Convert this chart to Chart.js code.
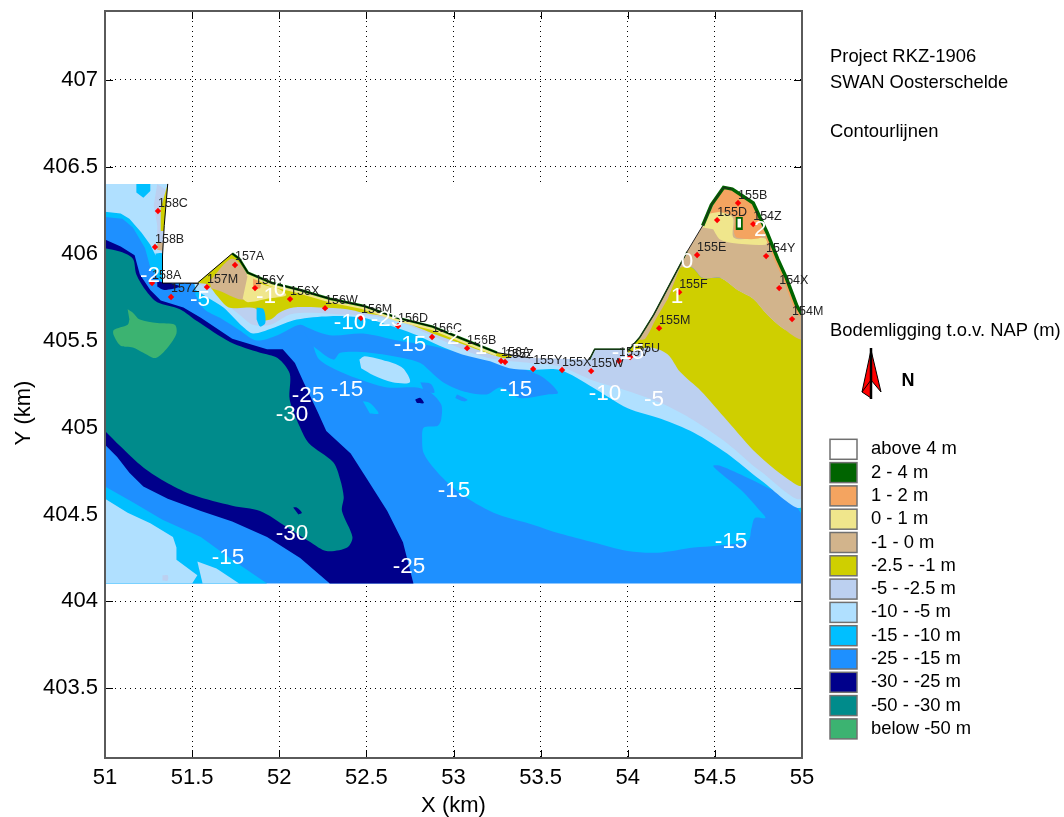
<!DOCTYPE html>
<html>
<head>
<meta charset="utf-8">
<title>Contourlijnen</title>
<script src="https://cdn.jsdelivr.net/npm/chart.js@4"></script>
<style>
  body { margin: 0; background: #fff; }
  canvas { display: block; }
</style>
</head>
<body>
<canvas id="myChart" width="1064" height="817"></canvas>
<script>
// tick labels
const xTicks = [51, 51.5, 52, 52.5, 53, 53.5, 54, 54.5, 55];
const yTicks = [403.5, 404, 404.5, 405, 405.5, 406, 406.5, 407];

// legend
const legendLabels = ['above 4 m', '2 - 4 m', '1 - 2 m', '0 - 1 m', '-1 - 0 m', '-2.5 - -1 m', '-5 - -2.5 m',
  '-10 - -5 m', '-15 - -10 m', '-25 - -15 m', '-30 - -25 m', '-50 - -30 m', 'below -50 m'];
const legendColors = ['#FFFFFF', '#006400', '#F4A460', '#F0E68C', '#D2B48C', '#CFCF00', '#BCD0F0',
  '#B0E0FF', '#00BFFF', '#1E90FF', '#00008B', '#008B8B', '#3CB371'];

// measuring stations
const stationNames = ['158C', '158B', '158A', '157Z', '157M', '157A', '156Y', '156X', '156W', '156M', '156D', '156C',
  '156B', '156A', '155Z', '155Y', '155X', '155W', '155V', '155U', '155M', '155F', '155E', '155D', '155B', '154Z', '154Y', '154X', '154M'];
const stationX = [51.304, 51.287, 51.27, 51.379, 51.585, 51.746, 51.861, 52.062, 52.263, 52.469, 52.682, 52.877,
  53.078, 53.273, 53.296, 53.457, 53.623, 53.79, 53.95, 54.014, 54.18, 54.295, 54.398, 54.513, 54.633, 54.72, 54.794, 54.869, 54.943];
const stationY = [406.244, 406.037, 405.83, 405.75, 405.807, 405.934, 405.801, 405.738, 405.686, 405.629, 405.583, 405.52,
  405.456, 405.382, 405.376, 405.336, 405.33, 405.324, 405.382, 405.405, 405.571, 405.778, 405.991, 406.192, 406.29, 406.169, 405.985, 405.801, 405.623];

// white contour labels
const contourText = ['-15', '-25', '-30', '-15', '-15', '-30', '-25', '-15', '-15', '-10', '-5', '-15', '-10', '-25', '-15', '-2', '-1', '0', '-5', '1', '1', '2', '2', '0'];
const contourX = [51.706, 52.745, 52.073, 53.003, 54.593, 52.073, 52.165, 52.389, 53.359, 53.87, 54.151, 52.751, 52.406, 52.619, 54.002, 51.258, 51.924, 52.005, 51.545, 54.283, 53.158, 52.998, 54.76, 54.34];
const contourY = [404.249, 404.197, 404.387, 404.634, 404.341, 405.071, 405.18, 405.215, 405.215, 405.192, 405.157, 405.474, 405.6, 405.617, 405.428, 405.87, 405.75, 405.79, 405.732, 405.75, 405.456, 405.514, 406.135, 405.951];

// depth areas in km
const domain = [[51,406.4],[55,406.4],[55,404.103],[51,404.103]];
const cyanMain = [[51.52,405.76],[51.57,405.68],[51.66,405.63],[51.77,405.56],[51.87,405.50],[51.99,405.53],[52.12,405.59],[52.18,405.55],[52.19,405.49],[52.23,405.39],[52.35,405.32],[52.48,405.27],[52.62,405.23],[52.79,405.23],[52.87,405.20],[52.93,405.13],[52.93,405.05],[52.91,405.01],[52.83,405.00],[52.82,404.94],[52.83,404.85],[52.91,404.74],[53.04,404.62],[53.23,404.51],[53.46,404.44],[53.61,404.39],[53.80,404.34],[54.00,404.29],[54.17,404.28],[54.38,404.31],[54.51,404.32],[54.69,404.35],[54.71,404.42],[54.73,404.48],[54.79,404.48],[54.76,404.52],[54.65,404.64],[54.53,404.74],[54.49,404.78],[54.53,404.78],[54.69,404.71],[54.83,404.64],[54.95,404.57],[55,404.51],[55,405.8],[54,405.8],[51.5,405.9]];
const blueBand = [[52.12,405.59],[52.29,405.53],[52.48,405.54],[52.68,405.50],[52.87,405.47],[53.04,405.43],[53.25,405.39],[53.36,405.35],[53.51,405.29],[53.60,405.20],[53.54,405.19],[53.38,405.17],[53.27,405.23],[53.19,405.19],[53.05,405.21],[52.94,405.26],[52.88,405.31],[52.81,405.37],[52.71,405.40],[52.52,405.43],[52.35,405.43],[52.31,405.39],[52.19,405.47]];
const bluePatch = [[52.81,405.26],[52.87,405.25],[52.89,405.20],[52.83,405.21]];
const blueStreak = [[53.02,405.19],[53.08,405.16],[53.06,405.15],[53.01,405.17]];
const cyanPatch = [[52.48,405.15],[52.52,405.14],[52.57,405.08],[52.52,405.08]];
const sandIsland = [[52.46,405.39],[52.49,405.41],[52.62,405.38],[52.71,405.34],[52.75,405.26],[52.65,405.26],[52.54,405.30],[52.47,405.34]];
const lightCoast = [[51.52,405.79],[51.60,405.74],[51.68,405.69],[51.79,405.58],[51.85,405.54],[51.96,405.57],[52.10,405.62],[52.29,405.64],[52.48,405.63],[52.68,405.57],[52.79,405.53],[52.92,405.47],[53.05,405.42],[53.21,405.38],[53.32,405.34],[53.44,405.33],[53.61,405.33],[53.80,405.23],[54.00,405.11],[54.19,405.05],[54.38,404.97],[54.57,404.85],[54.76,404.70],[55,404.55],[55,405.8],[54,405.8],[51.5,405.9]];
const periwinkle = [[51.52,405.83],[51.63,405.78],[51.72,405.69],[51.77,405.65],[51.85,405.59],[51.95,405.59],[52.06,405.65],[52.19,405.66],[52.35,405.65],[52.50,405.645],[52.68,405.61],[52.87,405.53],[53.10,405.43],[53.25,405.39],[53.44,405.37],[53.61,405.35],[53.80,405.27],[54.00,405.21],[54.19,405.14],[54.38,405.04],[54.57,404.91],[54.76,404.75],[55,404.60],[55,405.8],[54,405.8],[51.5,405.9]];
const oliveEast = [[54.00,405.43],[54.13,405.46],[54.23,405.42],[54.30,405.32],[54.42,405.21],[54.57,405.04],[54.74,404.85],[54.91,404.71],[55,404.67],[55,405.51],[54.89,405.57],[54.80,405.65],[54.72,405.74],[54.63,405.79],[54.53,405.86],[54.43,405.86],[54.37,405.92],[54.30,405.92],[54.21,405.73],[54.13,405.62],[54.07,405.53],[54.00,405.47]];
const tanEast = [[54.30,405.92],[54.37,405.92],[54.43,405.86],[54.53,405.86],[54.63,405.79],[54.72,405.74],[54.80,405.65],[54.89,405.57],[55,405.51],[55,405.75],[54.93,405.91],[54.82,406.13],[54.73,406.31],[54.42,406.31],[54.33,406.05],[54.21,405.79],[54.12,405.62],[54.06,405.51],[54.10,405.51],[54.16,405.62],[54.23,405.74]];
const khakiPeak = [[54.43,406.15],[54.47,406.24],[54.60,406.21],[54.61,406.09],[54.76,406.09],[54.80,406.08],[54.79,406.05],[54.60,406.06],[54.53,406.08],[54.49,406.14]];
const orangePeak = [[54.47,406.23],[54.55,406.38],[54.62,406.35],[54.72,406.28],[54.78,406.16],[54.76,406.09],[54.63,406.09],[54.61,406.12],[54.61,406.21],[54.53,406.24]];
const greenRect = [[54.62,406.21],[54.66,406.21],[54.66,406.135],[54.62,406.135]];
const whiteRect = [[54.63,406.20],[54.65,406.20],[54.65,406.15],[54.63,406.15]];
const oliveWest = [[51.53,405.83],[51.59,405.82],[51.64,405.76],[51.71,405.69],[51.82,405.69],[51.87,405.68],[51.90,405.62],[51.95,405.62],[52.00,405.66],[52.08,405.69],[52.23,405.69],[52.39,405.68],[52.48,405.66],[52.65,405.63],[52.88,405.54],[53.05,405.48],[53.25,405.41],[53.32,405.40],[53.38,405.47],[52.29,405.85],[51.73,406.02]];
const tanWest = [[51.60,405.84],[51.73,405.97],[51.83,405.86],[51.82,405.74],[51.76,405.74],[51.67,405.78],[51.61,405.80]];
const khakiWest = [[51.82,405.88],[51.91,405.82],[51.99,405.80],[52.04,405.76],[51.93,405.74],[51.82,405.72],[51.79,405.74]];
const orangeWest = [[51.85,405.86],[51.89,405.83],[51.89,405.80],[51.85,405.80]];
const cyanBlob = [[51.87,405.69],[51.91,405.68],[51.92,405.60],[51.89,405.58],[51.87,405.62]];
const cyanSW = [[51,404.66],[51.16,404.57],[51.33,404.47],[51.55,404.37],[51.73,404.24],[51.93,404.103],[51,404.103]];
const lightSW = [[51,404.59],[51.13,404.51],[51.26,404.45],[51.39,404.37],[51.41,404.31],[51.41,404.24],[51.53,404.15],[51.50,404.103],[51,404.103]];
const lightSW2 = [[51.53,404.23],[51.64,404.19],[51.77,404.103],[51.56,404.103]];
const dotSW = [[51.33,404.15],[51.36,404.15],[51.36,404.12],[51.33,404.12]];
const navyBand = [[51,406.08],[51.09,406.04],[51.17,405.99],[51.20,405.88],[51.26,405.79],[51.32,405.73],[51.45,405.69],[51.55,405.63],[51.73,405.51],[51.93,405.45],[52.02,405.45],[52.09,405.37],[52.14,405.26],[52.22,405.09],[52.27,404.98],[52.41,404.85],[52.50,404.71],[52.62,404.52],[52.71,404.34],[52.77,404.103],[52.29,404.103],[52.12,404.25],[51.93,404.37],[51.73,404.46],[51.55,404.52],[51.36,404.59],[51.22,404.66],[51.14,404.74],[51.07,404.83],[51,404.90]];
const tealDeep = [[51,406.03],[51.09,406.01],[51.16,405.97],[51.18,405.88],[51.24,405.78],[51.30,405.72],[51.43,405.68],[51.53,405.61],[51.72,405.49],[51.89,405.43],[51.99,405.40],[52.06,405.31],[52.06,405.16],[52.12,405.00],[52.17,404.91],[52.31,404.80],[52.35,404.70],[52.37,404.60],[52.36,404.52],[52.42,404.37],[52.39,404.31],[52.27,404.29],[52.18,404.34],[52.04,404.43],[51.89,404.52],[51.73,404.55],[51.51,404.61],[51.36,404.68],[51.22,404.77],[51.09,404.89],[51,404.98]];
const greenDeep = [[51.13,405.68],[51.16,405.66],[51.20,405.62],[51.30,405.60],[51.40,405.59],[51.41,405.54],[51.36,405.46],[51.29,405.40],[51.22,405.43],[51.16,405.46],[51.09,405.47],[51.05,405.53],[51.05,405.56],[51.13,405.59],[51.14,405.62]];
const navyBlob1 = [[52.08,404.54],[52.10,404.54],[52.13,404.51],[52.11,404.50]];
const navyBlob2 = [[52.78,405.16],[52.81,405.17],[52.83,405.14],[52.79,405.14]];
const navyCoast = [[51.30,405.84],[51.37,405.83],[51.43,405.81],[51.34,405.79],[51.30,405.81]];
const cyanNW = [[51,406.4],[51.36,406.4],[51.33,405.83],[51.30,405.86],[51.26,405.92],[51.23,406.03],[51.16,406.15],[51.10,406.20],[51,406.21]];
const lightNW = [[51,406.4],[51.36,406.4],[51.34,406.16],[51.33,405.99],[51.29,405.99],[51.26,406.05],[51.21,406.12],[51.14,406.20],[51.09,406.23],[51,406.24]];
const cyanTop = [[51.18,406.4],[51.26,406.4],[51.26,406.36],[51.22,406.32],[51.18,406.35]];
const cyanHarbour = [[51.29,406.00],[51.33,406.00],[51.33,405.94],[51.29,405.94]];
const periNW = [[51.30,406.4],[51.28,406.28],[51.30,406.16],[51.30,406.08],[51.33,405.99],[51.36,406.36]];
const oliveNW = [[51.36,406.4],[51.32,406.26],[51.32,406.13],[51.34,406.13]];
const tanNW = [[51.30,406.06],[51.34,406.06],[51.34,406.02],[51.30,406.02]];

// shore line, from the top left round to the right edge
const coastLine = [[51.36,406.40],[51.34,406.16],[51.33,405.99],[51.33,405.83],[51.53,405.83],[51.73,406.00],[51.77,405.97],[51.82,405.89],[51.96,405.83],[52.12,405.79],[52.29,405.74],[52.48,405.70],[52.68,405.63],[52.88,405.58],[53.05,405.51],[53.25,405.43],[53.44,405.40],[53.78,405.39],[53.81,405.45],[54.01,405.45],[54.07,405.52],[54.15,405.65],[54.25,405.84],[54.34,406.01],[54.43,406.16],[54.48,406.28],[54.55,406.38],[54.60,406.37],[54.72,406.29],[54.80,406.12],[54.86,405.97],[54.91,405.86],[54.97,405.70],[55,405.65]];
const landCover = coastLine.concat([[55,406.4]]);

const C = {
  white: legendColors[0], green: legendColors[1], orange: legendColors[2], khaki: legendColors[3], tan: legendColors[4], olive: legendColors[5],
  peri: legendColors[6], light: legendColors[7], cyan: legendColors[8], blue: legendColors[9], navy: legendColors[10], teal: legendColors[11], deep: legendColors[12]
};

function toPoints(list) {
  return list.map(p => ({ x: p[0], y: p[1] }));
}

function area(list, color) {
  return { data: toPoints(list), showLine: true, fill: 'shape', backgroundColor: color, borderWidth: 0, pointRadius: 0 };
}

// same, with rounded contour edges
function soft(list, color) {
  const d = area(list, color);
  d.tension = 0.3;
  return d;
}

function stroke(list, color, width) {
  return { data: toPoints(list), showLine: true, fill: false, borderColor: color, borderWidth: width, pointRadius: 0 };
}

// painted back to front
const layers = [
  area(domain, C.blue),
  soft(cyanMain, C.cyan),
  soft(blueBand, C.blue),
  soft(bluePatch, C.blue),
  soft(blueStreak, C.blue),
  soft(cyanPatch, C.cyan),
  soft(sandIsland, C.light),
  soft(lightCoast, C.light),
  soft(periwinkle, C.peri),
  soft(oliveWest, C.olive),
  soft(cyanBlob, C.cyan),
  soft(tanWest, C.tan),
  soft(khakiWest, C.khaki),
  soft(orangeWest, C.orange),
  soft(oliveEast, C.olive),
  soft(tanEast, C.tan),
  soft(khakiPeak, C.khaki),
  soft(orangePeak, C.orange),
  area(greenRect, C.green),
  area(whiteRect, C.white),
  area(cyanSW, C.cyan),
  area(lightSW, C.light),
  area(lightSW2, C.light),
  soft(dotSW, C.peri),
  area(navyBand, C.navy),
  soft(tealDeep, C.teal),
  soft(greenDeep, C.deep),
  soft(navyBlob1, C.navy),
  soft(navyBlob2, C.navy),
  soft(navyCoast, C.navy),
  area(cyanNW, C.cyan),
  area(lightNW, C.light),
  area(cyanTop, C.cyan),
  soft(cyanHarbour, C.cyan),
  area(periNW, C.peri),
  area(oliveNW, C.olive),
  soft(tanNW, C.tan),
  stroke(coastLine.slice(7, 16), C.khaki, 7),
  stroke(coastLine.slice(28), C.orange, 7),
  area(landCover, C.white),
  stroke(coastLine.slice(5, 16), C.green, 2.5),
  stroke(coastLine.slice(17, 24), C.green, 1.5),
  stroke(coastLine.slice(24), C.green, 3.5),
  stroke(coastLine.slice(0, 17), '#000000', 1),
  stroke(coastLine.slice(17, 28), '#222222', 1),
  {
    data: stationX.map((x, i) => ({ x: x, y: stationY[i] })), showLine: false,
    pointStyle: 'rectRot', pointRadius: 3.2, backgroundColor: '#FF0000', borderColor: '#FF0000', borderWidth: 0
  }
];

const FONT = '"Liberation Sans", Arial, sans-serif';

// inner tick marks go under the map
const tickMarks = {
  id: 'tickMarks',
  beforeDatasetsDraw(chart) {
    const { ctx, chartArea: a, scales } = chart;
    ctx.save();
    ctx.strokeStyle = '#000';
    ctx.lineWidth = 1;
    ctx.beginPath();
    xTicks.forEach(v => {
      const x = Math.round(scales.x.getPixelForValue(v)) + 0.5;
      ctx.moveTo(x, a.top); ctx.lineTo(x, a.top + 8);
      ctx.moveTo(x, a.bottom); ctx.lineTo(x, a.bottom - 8);
    });
    yTicks.forEach(v => {
      const y = Math.round(scales.y.getPixelForValue(v)) + 0.5;
      ctx.moveTo(a.left, y); ctx.lineTo(a.left + 8, y);
      ctx.moveTo(a.right, y); ctx.lineTo(a.right - 8, y);
    });
    ctx.stroke();
    ctx.restore();
  }
};

// frame, map labels, side panel
const mapExtras = {
  id: 'mapExtras',
  afterDatasetsDraw(chart) {
    const { ctx, chartArea: a, scales } = chart;
    ctx.save();
    ctx.strokeStyle = '#5a5a5a';
    ctx.lineWidth = 2;
    ctx.strokeRect(a.left, a.top, a.right - a.left, a.bottom - a.top);

    ctx.textBaseline = 'middle';
    ctx.textAlign = 'left';
    ctx.fillStyle = '#222';
    ctx.font = '12.5px ' + FONT;
    stationNames.forEach((name, i) => {
      ctx.fillText(name, scales.x.getPixelForValue(stationX[i]), scales.y.getPixelForValue(stationY[i]) - 8);
    });

    ctx.textAlign = 'center';
    ctx.fillStyle = '#fff';
    ctx.font = '22.5px ' + FONT;
    contourText.forEach((t, i) => {
      ctx.fillText(t, scales.x.getPixelForValue(contourX[i]), scales.y.getPixelForValue(contourY[i]));
    });

    // y title sits below the axis middle in the original
    ctx.fillStyle = '#000';
    ctx.font = '22px ' + FONT;
    ctx.save();
    ctx.translate(24, 413);
    ctx.rotate(-Math.PI / 2);
    ctx.fillText('Y (km)', 0, 0);
    ctx.restore();

    ctx.textAlign = 'left';
    ctx.font = '18.4px ' + FONT;
    ctx.fillText('Project RKZ-1906', 830, 57);
    ctx.fillText('SWAN Oosterschelde', 830, 83);
    ctx.fillText('Contourlijnen', 830, 132);
    ctx.fillText('Bodemligging t.o.v. NAP (m)', 830, 331);

    legendLabels.forEach((label, i) => {
      const y = 449.3 + i * 23.3;
      ctx.fillStyle = legendColors[i];
      ctx.fillRect(830, y - 10, 27, 20);
      ctx.strokeStyle = '#707070';
      ctx.lineWidth = 1.5;
      ctx.strokeRect(830, y - 10, 27, 20);
      ctx.fillStyle = '#000';
      ctx.fillText(label, 871, y);
    });

    // north arrow
    ctx.fillStyle = '#FF0000';
    ctx.strokeStyle = '#000';
    ctx.lineWidth = 1;
    ctx.beginPath();
    ctx.moveTo(871, 350); ctx.lineTo(862, 392); ctx.lineTo(871, 398); ctx.closePath();
    ctx.fill();
    ctx.stroke();
    ctx.beginPath();
    ctx.moveTo(871, 350); ctx.lineTo(881, 392); ctx.lineTo(871, 380); ctx.closePath();
    ctx.fill();
    ctx.stroke();
    ctx.beginPath();
    ctx.moveTo(862, 392); ctx.lineTo(871, 380);
    ctx.stroke();
    ctx.lineWidth = 2.5;
    ctx.beginPath();
    ctx.moveTo(871, 348); ctx.lineTo(871, 399);
    ctx.stroke();
    ctx.fillStyle = '#000';
    ctx.font = 'bold 18px ' + FONT;
    ctx.textAlign = 'center';
    ctx.fillText('N', 908, 381);
    ctx.restore();
  }
};

new Chart(document.getElementById('myChart'), {
  type: 'scatter',
  data: { datasets: layers.reverse() }, // first dataset is drawn last
  options: {
    responsive: false,
    animation: false,
    layout: { padding: { left: 0, right: 262, top: 11, bottom: 0 } },
    plugins: { legend: { display: false }, tooltip: { enabled: false } },
    scales: {
      x: {
        type: 'linear', min: 51, max: 55,
        afterBuildTicks: s => { s.ticks = xTicks.map(v => ({ value: v })); },
        afterFit: s => { s.height = 59; s.paddingLeft = 0; s.paddingRight = 0; },
        grid: { color: '#000', drawTicks: false },
        border: { display: false, dash: [1, 4] },
        ticks: { color: '#000', font: { family: FONT, size: 22 }, padding: 7, maxRotation: 0, autoSkip: false, callback: v => String(v) },
        title: { display: true, text: 'X (km)', color: '#000', font: { family: FONT, size: 22 }, padding: { top: 0, bottom: -2 } }
      },
      y: {
        type: 'linear', min: 403.1, max: 407.394,
        afterBuildTicks: s => { s.ticks = yTicks.map(v => ({ value: v })); },
        afterFit: s => { s.width = 105; s.paddingTop = 0; s.paddingBottom = 0; },
        grid: { color: '#000', drawTicks: false },
        border: { display: false, dash: [1, 4] },
        ticks: { color: '#000', font: { family: FONT, size: 22 }, padding: 7, autoSkip: false, callback: v => String(v) }
      }
    }
  },
  plugins: [tickMarks, mapExtras]
});
</script>
</body>
</html>
